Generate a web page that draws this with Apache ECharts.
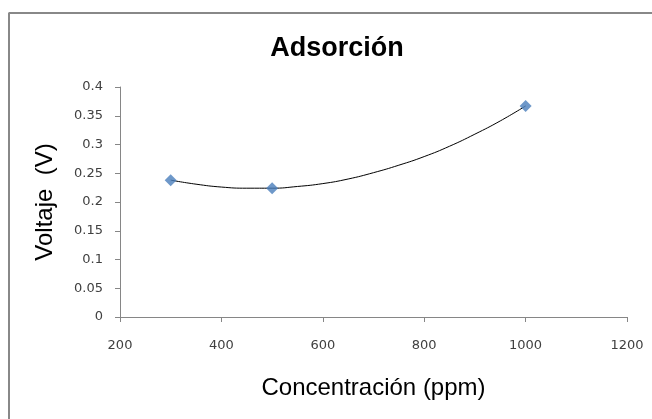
<!DOCTYPE html>
<html><head><meta charset="utf-8">
<script src="https://cdn.jsdelivr.net/npm/echarts@6/dist/echarts.min.js"></script>
<style>html,body{margin:0;padding:0;background:#fff}#c{width:652px;height:419px}</style>
</head><body><div id="c"></div>
<script>
var concentration = [300, 500, 1000];
var voltage = [0.238, 0.224, 0.367];
var trendX = [300, 350, 400, 450, 500, 550, 600, 650, 700, 750, 800, 850, 900, 950, 1000];
var trendY = [0.238, 0.231, 0.226, 0.224, 0.224, 0.227, 0.232, 0.240, 0.251, 0.264, 0.279, 0.297, 0.318, 0.341, 0.367];
var xTicks = [200, 400, 600, 800, 1000, 1200];
var yTicks = [0, 0.05, 0.1, 0.15, 0.2, 0.25, 0.3, 0.35, 0.4];

var chart = echarts.init(document.getElementById('c'));
var font = '"Liberation Sans", Arial, sans-serif';
var tickFont = '"DejaVu Sans", sans-serif';
chart.setOption({
  animation: false,
  backgroundColor: '#fff',
  title: {
    text: 'Adsorción', left: 332, top: 30, textAlign: 'center',
    textStyle: {fontFamily: font, fontSize: 27, fontWeight: 'bold', color: '#000'}
  },
  graphic: [
    {type: 'line', shape: {x1: 8.5, y1: 13, x2: 652, y2: 13}, style: {stroke: '#888', lineWidth: 2}},
    {type: 'line', shape: {x1: 9, y1: 13, x2: 9, y2: 419}, style: {stroke: '#888', lineWidth: 2}}
  ],
  grid: {left: 120, right: 25, top: 87, bottom: 102},
  xAxis: {
    type: 'value', min: xTicks[0], max: xTicks[xTicks.length - 1], interval: 200,
    name: 'Concentración (ppm)', nameLocation: 'middle', nameGap: 59,
    nameTextStyle: {fontFamily: font, fontSize: 24, color: '#000'},
    axisLine: {show: true, lineStyle: {color: '#868686', width: 1}},
    axisTick: {show: true, length: 5, lineStyle: {color: '#868686'}},
    axisLabel: {fontFamily: tickFont, fontSize: 13, color: '#404040', margin: 22,
      formatter: function (v) { return String(v); }},
    splitLine: {show: false}
  },
  yAxis: {
    type: 'value', min: yTicks[0], max: yTicks[yTicks.length - 1], interval: 0.05,
    name: 'Voltaje  (V)', nameLocation: 'middle', nameGap: 63,
    nameTextStyle: {fontFamily: font, fontSize: 24, color: '#000'},
    axisLine: {show: true, lineStyle: {color: '#868686', width: 1}},
    axisTick: {show: true, length: 5, lineStyle: {color: '#868686'}},
    axisLabel: {fontFamily: tickFont, fontSize: 13, color: '#404040', margin: 17,
      formatter: function (v) { return String(v); }},
    splitLine: {show: false}
  },
  series: [
    {
      type: 'line', data: trendX.map(function (x, i) { return [x, trendY[i]]; }),
      smooth: true, showSymbol: false, symbol: 'none',
      lineStyle: {color: '#000', width: 1}, z: 2
    },
    {
      type: 'scatter', data: concentration.map(function (x, i) { return [x, voltage[i]]; }),
      symbol: 'diamond', symbolSize: 12,
      itemStyle: {color: '#4a7ebb'}, z: 3
    }
  ]
});
</script></body></html>
